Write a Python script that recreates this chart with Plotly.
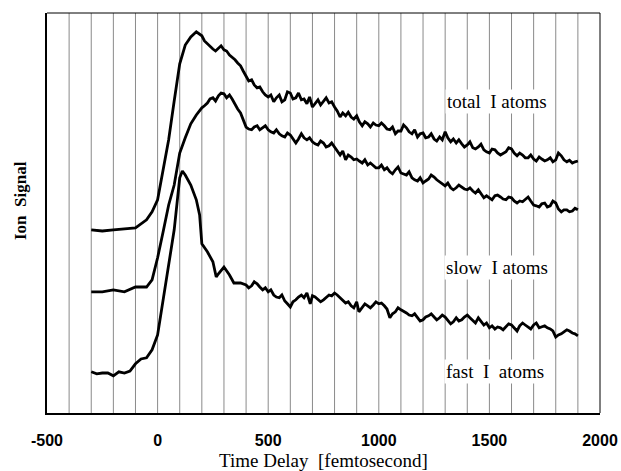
import plotly.graph_objects as go

# (time delay fs, ion signal arb. units)
total_pts = [(-300,45.8),(-250,45.5),(-200,45.8),(-150,46),(-100,46.3),(-50,48.3),(-25,50.3),(0,53.3),(25,60.8),(50,68.3),(75,78),(100,87.3),(125,92),(150,94),(175,95.3),(200,94.3),(212,93),(225,92.3),(237,91.5),(250,91),(262,90.5),(275,91.3),(287,91.8),(300,90.8),(312,90.5),(325,89.5),(337,89),(350,88.3),(362,87.5),(375,86.8),(387,85.5),
 (400,84),(412,83),(425,83.3),(437,82),(450,81.3),(462,81.5),(475,80.3),(487,79.5),(500,79),(512,79.5),(525,77.8),(537,78.8),(550,79.5),(562,77.8),(575,78.3),(587,80.3),(600,80),(612,78.5),(625,78.8),(637,80),(650,78.3),(662,78.5),(675,77.3),(687,79),(700,76.5),(712,77.5),(725,78.3),(737,77),(750,77.8),(762,78.8),(775,77.5),(787,77.8),(800,76.5),(812,75.5),(825,74),(837,75),(850,74.3),(862,75.2),(875,74),(887,73.5),(900,74.3),(912,72.8),(925,71.8),(937,72.8),(950,72.3),(962,71.5),(975,72.5),(987,72),(1000,71.8),(1012,72.5),(1025,71.8),(1037,71),(1050,70.8),(1062,71.5),(1075,69.8),(1087,70.5),(1100,70.5),(1112,72),(1125,71.3),(1137,70.3),(1150,69.8),(1162,70.8),(1175,69),(1187,69.8),(1200,70),(1212,68.8),(1225,69),(1237,69.8),(1250,68.5),(1262,68),(1275,69),(1287,68.3),(1300,70.3),(1312,68.8),(1325,67.8),(1337,68.5),(1350,67.5),(1362,68.3),(1375,67.3),(1387,66.5),(1400,67),(1412,67.8),(1425,66.3),(1437,66),(1450,66.5),(1462,67.2),(1475,65.8),(1487,65.3),(1500,65),(1512,66),(1525,65.8),(1537,65),(1550,64.5),(1562,64.8),(1575,65.3),(1587,66.3),(1600,66),(1612,65),(1625,64.3),(1637,65),(1650,64.5),(1662,63.8),(1675,63.8),(1687,64.5),(1700,63.5),(1712,63),(1725,64),(1737,63.5),(1750,63),(1762,63.3),(1775,63.8),(1787,62.8),(1800,63.3),(1812,65),(1825,64.3),(1837,63.3),(1850,62.8),(1862,63.2),(1875,62.5),(1887,62.8),(1900,63)]

slow_pts = [(-300,30.3),(-250,30.3),(-200,30.8),(-150,30.3),(-100,31.5),(-50,31.5),(-25,33.3),(0,38.8),(25,45.3),(50,52),(75,57),(100,65),(125,68.8),(150,72.3),(175,74.5),(200,76.3),(212,76.8),(225,77.5),(237,78.5),(250,78.8),(262,78),(275,79.3),(287,80),(300,79.8),(312,78.8),(325,79.5),(337,78.5),(350,77),(362,76),(375,75),(387,73.5),
 (400,71.5),(412,71),(425,70.8),(437,71.5),(450,71.8),(462,70.8),(475,71.3),(487,71.8),(500,70.8),(512,70.3),(525,70),(537,70.8),(550,69.8),(562,69.3),(575,69),(587,70),(600,69.5),(612,68.5),(625,67.5),(637,68.5),(650,69.8),(662,68.8),(675,68.3),(687,68.8),(700,67.8),(712,67.3),(725,67),(737,68),(750,67.5),(762,66.5),(775,66.8),(787,67.5),(800,66.5),(812,65.8),(825,64.5),(837,65.5),(850,63.3),(862,64.5),(875,64),(887,63.3),(900,63.5),(912,63),(925,62.5),(937,63.3),(950,62),(962,62.5),(975,61.8),(987,61.3),(1000,61.3),(1012,62),(1025,60.8),(1037,61.3),(1050,60.3),(1062,59.8),(1075,60.8),(1087,61.5),(1100,60),(1112,59.8),(1125,59.5),(1137,60.3),(1150,58.8),(1162,58.3),(1175,58),(1187,58.8),(1200,57.5),(1212,58),(1225,58.5),(1237,59.5),(1250,59),(1262,58.3),(1275,57.8),(1287,57.3),(1300,56.8),(1312,57.5),(1325,56.3),(1337,55.8),(1350,56.3),(1362,57),(1375,56.5),(1387,56),(1400,55.8),(1412,56.3),(1425,55.5),(1437,55),(1450,55.8),(1462,54.8),(1475,53.8),(1487,54.3),(1500,53.8),(1512,53.3),(1525,54.3),(1537,54.5),(1550,54),(1562,53.5),(1575,53.3),(1587,54),(1600,53.8),(1612,53),(1625,52.5),(1637,53),(1650,52.8),(1662,53.5),(1675,54),(1687,53),(1700,52),(1712,51.8),(1725,51.5),(1737,52.3),(1750,52.5),(1762,51.5),(1775,51.8),(1787,53),(1800,52.5),(1812,51),(1825,50.3),(1837,50.8),(1850,50.8),(1862,50.3),(1875,50.5),(1887,51.2),(1900,50.8)]

fast_pts = [(-300,10.3),(-275,9.8),(-250,10),(-225,10),(-200,9.3),(-175,10.3),(-150,10),(-125,10.5),(-100,12.3),(-75,13.5),(-50,13.8),(-25,15.8),(0,19.5),(25,28.3),(50,36.3),(75,45.8),(100,58.8),(112,60.5),(125,59.5),(150,57),(175,53.3),(190,49.5),(200,42.3),(225,40.3),(250,37.8),(265,34),(275,34.8),(300,36.5),(325,34.5),(345,32.5),(375,32.5),(400,32),
 (412,31.3),(425,31.8),(437,32.8),(450,32.3),(462,31.5),(475,30.8),(487,31.3),(500,30.3),(512,30.8),(525,29.5),(537,29),(550,28.8),(562,29.5),(575,28),(587,27.3),(600,26.5),(612,27.8),(625,28.3),(637,29),(650,29.5),(662,28.8),(675,30),(690,27.3),(700,29.3),(712,29),(725,28.3),(737,27.8),(750,28.3),(762,29),(775,29.5),(787,29.3),(800,30),(812,29.5),(825,28.8),(837,28.3),(850,27.5),(862,27.8),(875,26.8),(887,26.3),(900,27.8),(910,25.3),(925,26.3),(937,27.3),(950,26.8),(962,26.3),(975,27),(987,27.8),(1000,27.3),(1012,27.5),(1025,26.8),(1037,26),(1050,23.8),(1062,24.8),(1075,25.3),(1087,26.3),(1100,25.8),(1112,25.5),(1125,25),(1137,24.5),(1150,24.3),(1162,24.8),(1175,23.8),(1187,23),(1200,23.3),(1212,24),(1225,24.3),(1237,24.8),(1250,24),(1262,23.3),(1275,23.8),(1287,24.5),(1300,24),(1312,23.3),(1325,22.3),(1337,22.8),(1350,23.8),(1362,23),(1375,23.3),(1387,24),(1400,24.5),(1412,23.8),(1425,23),(1437,22.5),(1450,23.8),(1462,23),(1475,22),(1487,22.5),(1500,21.3),(1512,21.8),(1525,21),(1537,21.5),(1550,21.3),(1562,20.8),(1575,21.5),(1587,22.3),(1600,22),(1612,21.3),(1625,20.5),(1637,21.8),(1650,22.5),(1662,22),(1675,21.5),(1687,21),(1700,22),(1712,22.5),(1725,21.3),(1737,21.5),(1750,21.8),(1762,21.3),(1775,21),(1787,20.5),(1800,19),(1812,19.5),(1825,19.8),(1837,20.3),(1850,20.8),(1862,20.5),(1875,20),(1887,19.8),(1900,19.3)]

t_total = [p[0] for p in total_pts]
y_total = [p[1] for p in total_pts]
t_slow = [p[0] for p in slow_pts]
y_slow = [p[1] for p in slow_pts]
t_fast = [p[0] for p in fast_pts]
y_fast = [p[1] for p in fast_pts]

labels = ["total  I atoms", "slow  I atoms", "fast  I  atoms"]
label_x = [1535, 1535, 1525]
label_y = [78, 36.5, 10.3]

x_ticks = [-500, 0, 500, 1000, 1500, 2000]
grid_x = list(range(-400, 2000, 100))

fig = go.Figure()
for tx, ty in [(t_total, y_total), (t_slow, y_slow), (t_fast, y_fast)]:
    fig.add_trace(go.Scatter(x=tx, y=ty, mode="lines",
                             line=dict(color="black", width=2.8),
                             showlegend=False, hoverinfo="skip"))

for gx in grid_x:
    fig.add_shape(type="line", x0=gx, x1=gx, y0=0, y1=1, xref="x", yref="paper",
                  line=dict(color="#8a8a8a", width=1), layer="below")

# thin top and right frame
fig.add_shape(type="line", x0=0, x1=1, y0=1, y1=1, xref="paper", yref="paper",
              line=dict(color="black", width=1))
fig.add_shape(type="line", x0=1, x1=1, y0=0, y1=1, xref="paper", yref="paper",
              line=dict(color="black", width=1))

for txt, lx, ly in zip(labels, label_x, label_y):
    fig.add_annotation(x=lx, y=ly, text=txt, showarrow=False,
                       font=dict(family="Liberation Serif", size=19, color="black"),
                       bgcolor="white")

# axis titles placed just below / left of the plot area
fig.add_annotation(x=0.5, y=0, xref="paper", yref="paper", yshift=-47,
                   xanchor="center", yanchor="middle",
                   text="Time Delay  [femtosecond]", showarrow=False,
                   font=dict(family="Liberation Serif", size=19, color="black"))
fig.add_annotation(x=0, y=0.53, xref="paper", yref="paper", xshift=-27,
                   xanchor="center", yanchor="middle",
                   text="<b>Ion  Signal</b>", showarrow=False, textangle=-90,
                   font=dict(family="Liberation Serif", size=17, color="black"))

fig.update_layout(
    width=621, height=471,
    margin=dict(l=47, r=21, t=13, b=58),
    paper_bgcolor="white", plot_bgcolor="white",
    xaxis=dict(range=[-500, 2000], tickvals=x_ticks, ticktext=[str(v) for v in x_ticks],
               showgrid=False, zeroline=False, showline=True, linecolor="black", linewidth=2,
               ticks="", ticklabelstandoff=12, automargin=False,
               tickfont=dict(family="Liberation Sans", size=16, color="black", weight="bold")),
    yaxis=dict(range=[0, 100], showticklabels=False, showgrid=False, zeroline=False,
               showline=True, linecolor="black", linewidth=2, ticks="", automargin=False),
)

fig.write_html("out.html")
